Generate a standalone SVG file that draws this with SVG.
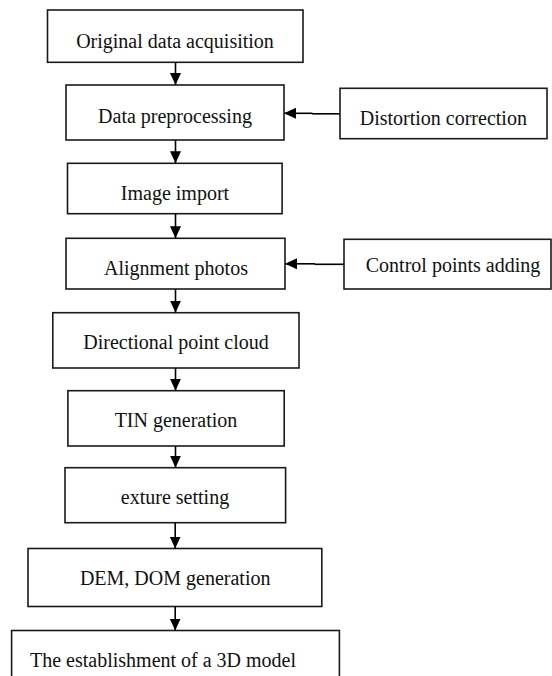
<svg xmlns="http://www.w3.org/2000/svg" width="552" height="676" viewBox="0 0 552 676">
<style>
.box{fill:#fff;stroke:#1a1a1a;stroke-width:1.6}
.lbl{font-family:"Liberation Serif","Times New Roman",serif;font-size:20px;fill:#111;text-anchor:middle}
.con{stroke:#000;stroke-width:1.6;fill:none}
</style>
<defs>
<marker id="ah" viewBox="0 0 12 11" refX="12" refY="5.5" markerWidth="12" markerHeight="11" markerUnits="userSpaceOnUse" orient="auto">
<path d="M0,0 L12,5.5 L0,11 z" fill="#000"/>
</marker>
</defs>
<rect width="552" height="676" fill="#fff"/>
<g id="n1"><rect class="box" x="47.5" y="10" width="255.5" height="52.3"/><text class="lbl" x="175" y="47.5">Original data acquisition</text></g>
<g id="n2"><rect class="box" x="66" y="85" width="218" height="55"/><text class="lbl" x="175" y="123.3">Data preprocessing</text></g>
<g id="n3"><rect class="box" x="340" y="88.3" width="207" height="50.4"/><text class="lbl" x="443.3" y="125">Distortion correction</text></g>
<g id="n4"><rect class="box" x="67.5" y="163.3" width="214.6" height="50.4"/><text class="lbl" x="175" y="200">Image import</text></g>
<g id="n5"><rect class="box" x="66" y="238.3" width="219" height="50.7"/><text class="lbl" x="176" y="275">Alignment photos</text></g>
<g id="n6"><rect class="box" x="344" y="239.3" width="207" height="49.7"/><text class="lbl" x="453" y="271.7">Control points adding</text></g>
<g id="n7"><rect class="box" x="52.8" y="312.7" width="246.2" height="55.3"/><text class="lbl" x="176" y="349.3">Directional point cloud</text></g>
<g id="n8"><rect class="box" x="67.9" y="390.7" width="216.3" height="55.3"/><text class="lbl" x="176" y="426.7">TIN generation</text></g>
<g id="n9"><rect class="box" x="65" y="467.7" width="220.6" height="55"/><text class="lbl" x="175" y="504.3">exture setting</text></g>
<g id="n10"><rect class="box" x="28" y="548.5" width="293.8" height="58"/><text class="lbl" x="175.2" y="585">DEM, DOM generation</text></g>
<g id="n11"><rect class="box" x="11.6" y="630.5" width="327.8" height="60"/><text class="lbl" x="30" y="666.7" style="text-anchor:start">The establishment of a 3D model</text></g>
<g id="connectors">
<line class="con" x1="175.5" y1="62.3" x2="175.5" y2="85" marker-end="url(#ah)"/>
<line class="con" x1="175.5" y1="140" x2="175.5" y2="163.3" marker-end="url(#ah)"/>
<line class="con" x1="175.5" y1="213.7" x2="175.5" y2="238.3" marker-end="url(#ah)"/>
<line class="con" x1="175.5" y1="289" x2="175.5" y2="312.7" marker-end="url(#ah)"/>
<line class="con" x1="175.5" y1="368" x2="175.5" y2="390.7" marker-end="url(#ah)"/>
<line class="con" x1="175.5" y1="446" x2="175.5" y2="467.7" marker-end="url(#ah)"/>
<line class="con" x1="175.2" y1="522.7" x2="175.2" y2="548.5" marker-end="url(#ah)"/>
<line class="con" x1="175.2" y1="606.5" x2="175.2" y2="630.5" marker-end="url(#ah)"/>
<line class="con" x1="340" y1="113.8" x2="312" y2="113.8"/>
<line class="con" x1="312.5" y1="113.3" x2="284" y2="113.3" stroke-width="2" marker-end="url(#ah)"/>
<line class="con" x1="344" y1="264.3" x2="314.5" y2="264.3"/>
<line class="con" x1="315" y1="263.8" x2="285" y2="263.8" stroke-width="2" marker-end="url(#ah)"/>
</g>
</svg>
